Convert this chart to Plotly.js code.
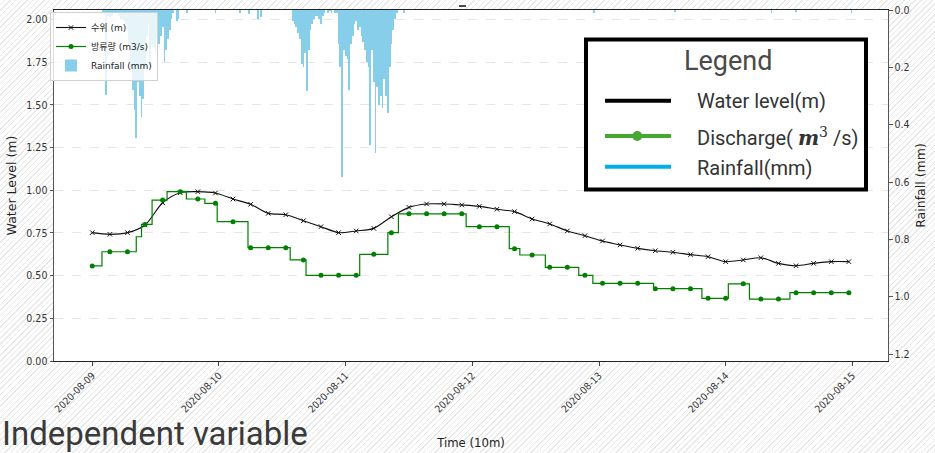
<!DOCTYPE html>
<html>
<head>
<meta charset="utf-8">
<script src="https://cdn.plot.ly/plotly-3.0.1.min.js"></script>
<style>
  html, body { margin: 0; padding: 0; }
  body {
    width: 935px; height: 453px; overflow: hidden;
    background: repeating-linear-gradient(135deg, #ffffff 0px, #ffffff 3px, #e8e8e8 3px, #e8e8e8 4px);
  }
  #chart { width: 935px; height: 453px; }
</style>
</head>
<body>
<div id="chart"></div>
<script>
// ---------------- DATA ----------------
// Water level (m), sampled every 200 minutes starting 2020-08-09 00:00 (one value per marker)
const waterLevelStart = '2020-08-09 00:00';
const waterLevelStepMinutes = 200;
const waterLevel = [0.752, 0.742, 0.752, 0.797, 0.927, 0.986, 0.992, 0.984, 0.949, 0.918,
  0.865, 0.857, 0.822, 0.787, 0.752, 0.762, 0.777, 0.845, 0.900, 0.920,
  0.920, 0.914, 0.906, 0.889, 0.875, 0.832, 0.803, 0.762, 0.734, 0.703,
  0.680, 0.660, 0.646, 0.637, 0.623, 0.611, 0.582, 0.592, 0.605, 0.572,
  0.558, 0.572, 0.582, 0.582];

// Discharge (m3/s): step changes (time of change, new value)
const dischargeTimes = ['2020-08-09 00:00', '2020-08-09 01:50', '2020-08-09 08:20', '2020-08-09 09:20',
  '2020-08-09 11:20', '2020-08-09 14:10', '2020-08-09 17:50', '2020-08-09 21:20', '2020-08-09 23:40',
  '2020-08-10 05:30', '2020-08-10 13:30', '2020-08-10 16:30', '2020-08-11 02:40', '2020-08-11 08:00',
  '2020-08-11 10:00', '2020-08-11 22:50', '2020-08-12 07:00', '2020-08-12 09:00', '2020-08-12 13:50',
  '2020-08-12 20:10', '2020-08-12 22:50', '2020-08-13 10:20', '2020-08-13 19:30', '2020-08-14 00:30',
  '2020-08-14 04:30', '2020-08-14 12:10', '2020-08-14 23:20'];
const dischargeValues = [0.557, 0.640, 0.728, 0.800, 0.943, 0.992, 0.949, 0.924, 0.816,
  0.664, 0.592, 0.502, 0.625, 0.752, 0.862, 0.787, 0.658, 0.621, 0.549,
  0.502, 0.455, 0.424, 0.367, 0.452, 0.363, 0.400, 0.400];

// Rainfall (mm), 20-minute bars in two storm clusters plus isolated small amounts
const rainStepMinutes = 20;
const rainCluster1Start = '2020-08-09 02:00';
const rainCluster1 = [0.012, 0.015, 0.296, 0.02, 0.025, 0.02, 0.015, 0.01, 0.012, 0.02,
  0.03, 0.03, 0.04, 0.05, 0.07, 0.12, 0.20, 0.28, 0.35, 0.448,
  0.25, 0.30, 0.372, 0.31, 0.20, 0.09, 0.05, 0.198, 0.12, 0.13,
  0.15, 0.10, 0.12, 0.09, 0.06, 0.18, 0.14, 0.10, 0.07, 0.03,
  0.01, 0, 0.04, 0.03, 0, 0, 0, 0, 0.01];
const rainCluster2Start = '2020-08-10 14:00';
const rainCluster2 = [0.04, 0.05, 0.06, 0.08, 0.10, 0.19, 0.20, 0.15, 0.284, 0.14,
  0.07, 0.05, 0.03, 0.02, 0.02, 0.03, 0.05, 0.02, 0.01, 0,
  0.01, 0.005, 0.01, 0, 0.01, 0.01, 0.12, 0.20, 0.581, 0.14,
  0.16, 0.17, 0.28, 0.12, 0.09, 0.05, 0.04, 0.07, 0.06, 0.09,
  0.11, 0.14, 0.18, 0.20, 0.47, 0.14, 0.25, 0.50, 0.27, 0.33,
  0.30, 0.342, 0.24, 0.30, 0.359, 0.20, 0.12, 0.07, 0.03, 0.01];
const rainSparseTimes = ['2020-08-09 23:20', '2020-08-10 04:00', '2020-08-10 05:40', '2020-08-10 07:20',
  '2020-08-10 08:00', '2020-08-11 11:00', '2020-08-12 23:00', '2020-08-13 14:20', '2020-08-14 08:40',
  '2020-08-14 13:20', '2020-08-14 23:50'];
const rainSparseValues = [0.01, 0.01, 0.015, 0.03, 0.025, 0.01, 0.012, 0.006, 0.012, 0.006, 0.012];

// Labels
const seriesNamesKo = ['수위 (m)', '방류량 (m3/s)', 'Rainfall (mm)'];
const legendBoxTitle = 'Legend';
const legendBoxLabels = ['Water level(m)', 'Discharge( <span style="font-family:DejaVu Serif"><b><i>m</i></b><sup>3</sup></span> /s)', 'Rainfall(mm)'];
const overlayText = 'Independent variable';
const xTitle = 'Time (10m)';
const yTitle = 'Water Level (m)';
const y2Title = 'Rainfall (mm)';

// ---------------- HELPERS ----------------
const MIN = 60000;
function toMs(s) { return new Date(s.replace(' ', 'T') + ':00Z').getTime(); }
function fmt(ms) { return new Date(ms).toISOString().slice(0, 16).replace('T', ' '); }

const wlX = waterLevel.map((_, k) => fmt(toMs(waterLevelStart) + k * waterLevelStepMinutes * MIN));

const dMs = dischargeTimes.map(toMs);
function dischargeAt(ms) {
  let v = dischargeValues[0];
  for (let i = 0; i < dMs.length; i++) { if (dMs[i] <= ms) v = dischargeValues[i]; }
  return v;
}
const dMarkX = wlX;
const dMarkY = wlX.map(s => dischargeAt(toMs(s)));

const rainX = [], rainY = [];
rainCluster1.forEach((v, i) => { rainX.push(fmt(toMs(rainCluster1Start) + i * rainStepMinutes * MIN)); rainY.push(v); });
rainCluster2.forEach((v, i) => { rainX.push(fmt(toMs(rainCluster2Start) + i * rainStepMinutes * MIN)); rainY.push(v); });
rainSparseTimes.forEach((t, i) => { rainX.push(t); rainY.push(rainSparseValues[i]); });

// ---------------- TRACES ----------------
const GREEN = '#008000';
const traces = [
  {
    x: wlX, y: waterLevel, name: seriesNamesKo[0], type: 'scatter', mode: 'lines+markers',
    line: { color: '#111', width: 1.1, shape: 'spline', smoothing: 0.8 },
    marker: { symbol: 'x-thin', size: 4.5, line: { color: '#111', width: 1 }, color: '#111' },
    yaxis: 'y', showlegend: true
  },
  {
    x: [null], y: [null], name: seriesNamesKo[1], type: 'scatter', mode: 'lines+markers',
    line: { color: GREEN, width: 1.2 }, marker: { color: GREEN, size: 5 }, showlegend: true
  },
  {
    x: rainX, y: rainY, name: seriesNamesKo[2], type: 'bar', yaxis: 'y2',
    width: rainStepMinutes * MIN,
    marker: { color: '#87CEEB', line: { width: 0 } }, showlegend: true
  },
  {
    x: dischargeTimes, y: dischargeValues, type: 'scatter', mode: 'lines',
    line: { color: GREEN, width: 1.2, shape: 'hv' }, showlegend: false, yaxis: 'y'
  },
  {
    x: dMarkX, y: dMarkY, type: 'scatter', mode: 'markers',
    marker: { color: GREEN, size: 5 }, showlegend: false, yaxis: 'y'
  }
];

// ---------------- LAYOUT ----------------
const L = 54, R = 888, T = 10, B = 361;
const X = px => (px - L) / (R - L);
const Y = py => (B - py) / (B - T);
const tickFont = { family: 'Liberation Sans Narrow, DejaVu Sans Condensed, Arial Narrow, sans-serif', size: 10.5, color: '#333' };

const shapes = [
  { type: 'rect', xref: 'paper', yref: 'paper', x0: X(586), x1: X(866), y0: Y(189.5), y1: Y(39.5),
    line: { color: '#000', width: 4 }, fillcolor: '#fff', layer: 'above' },
  { type: 'line', xref: 'paper', yref: 'paper', x0: X(605), x1: X(671), y0: Y(100.7), y1: Y(100.7),
    line: { color: '#000', width: 4 }, layer: 'above' },
  { type: 'line', xref: 'paper', yref: 'paper', x0: X(605), x1: X(671), y0: Y(136), y1: Y(136),
    line: { color: '#45a82f', width: 4 }, layer: 'above' },
  { type: 'circle', xref: 'paper', yref: 'paper', x0: X(632.3), x1: X(642.3), y0: Y(131), y1: Y(141),
    line: { color: '#45a82f', width: 0 }, fillcolor: '#45a82f', layer: 'above' },
  { type: 'line', xref: 'paper', yref: 'paper', x0: X(605), x1: X(671), y0: Y(166.7), y1: Y(166.7),
    line: { color: '#00aeef', width: 4 }, layer: 'above' },
  { type: 'line', xref: 'paper', yref: 'paper', x0: X(459), x1: X(466), y0: Y(6), y1: Y(6),
    line: { color: '#111', width: 1.5 }, layer: 'above' }
];

const annFont = { family: 'Roboto, sans-serif', size: 20, color: '#333' };
const annotations = [
  { xref: 'paper', yref: 'paper', x: X(728), y: Y(61), text: legendBoxTitle, showarrow: false,
    xanchor: 'center', yanchor: 'middle', font: { family: 'Roboto, sans-serif', size: 27, color: '#4a4a4a' } },
  { xref: 'paper', yref: 'paper', x: X(695), y: Y(101.5), text: legendBoxLabels[0], showarrow: false,
    xanchor: 'left', yanchor: 'middle', font: annFont },
  { xref: 'paper', yref: 'paper', x: X(695), y: Y(137), text: legendBoxLabels[1], showarrow: false,
    xanchor: 'left', yanchor: 'middle', font: annFont },
  { xref: 'paper', yref: 'paper', x: X(695), y: Y(167.5), text: legendBoxLabels[2], showarrow: false,
    xanchor: 'left', yanchor: 'middle', font: annFont },
  { xref: 'paper', yref: 'paper', x: X(0), y: Y(433), text: overlayText, showarrow: false,
    xanchor: 'left', yanchor: 'middle', font: { family: 'Roboto, sans-serif', size: 33, color: '#3a3a3a' } }
];

const layout = {
  width: 935, height: 453,
  margin: { l: L, r: 935 - R, t: T, b: 453 - B, pad: 0 },
  paper_bgcolor: 'rgba(0,0,0,0)', plot_bgcolor: '#ffffff',
  showlegend: true,
  bargap: 0,
  legend: {
    x: X(50), y: Y(12), xanchor: 'left', yanchor: 'top',
    bgcolor: 'rgba(255,255,255,0.8)', bordercolor: '#d0d0d0', borderwidth: 1,
    font: { family: 'DejaVu Sans, Noto Sans CJK KR, sans-serif', size: 9, color: '#222' },
    tracegroupgap: 0
  },
  xaxis: {
    type: 'date',
    range: ['2020-08-08 16:45', '2020-08-15 06:45'],
    tick0: '2020-08-09', dtick: 86400000, tickformat: '%Y-%m-%d', tickangle: -45,
    tickfont: { ...tickFont, size: 10 },
    ticks: 'outside', ticklen: 3.5, tickcolor: '#444',
    showline: true, linecolor: '#222', linewidth: 1.3, mirror: true,
    showgrid: false, zeroline: false,
    title: { text: xTitle, font: { family: 'Liberation Sans Narrow, DejaVu Sans Condensed, sans-serif', size: 13, color: '#222' }, standoff: 24 }
  },
  yaxis: {
    range: [0, 2.0563], dtick: 0.25, tick0: 0, tickformat: '.2f',
    tickfont: tickFont, ticks: 'outside', ticklen: 3.5, tickcolor: '#555',
    showline: true, linecolor: '#555', linewidth: 1, mirror: true,
    showgrid: true, gridcolor: '#e0e0e0', griddash: 'dash', gridwidth: 0.8, zeroline: false,
    title: { text: yTitle, font: { family: 'DejaVu Sans, sans-serif', size: 12.5, color: '#222' }, standoff: 6 }
  },
  yaxis2: {
    overlaying: 'y', side: 'right',
    range: [1.2244, 0], dtick: 0.2, tick0: 0, tickformat: '.1f',
    tickfont: tickFont, ticks: 'outside', ticklen: 3.5, tickcolor: '#555',
    showline: true, linecolor: '#555', linewidth: 1,
    showgrid: false, zeroline: false,
    title: { text: y2Title, font: { family: 'DejaVu Sans, sans-serif', size: 12.5, color: '#222' }, standoff: 7 }
  },
  shapes: shapes,
  annotations: annotations
};

Plotly.newPlot('chart', traces, layout, { displayModeBar: false, staticPlot: true });
</script>
</body>
</html>
